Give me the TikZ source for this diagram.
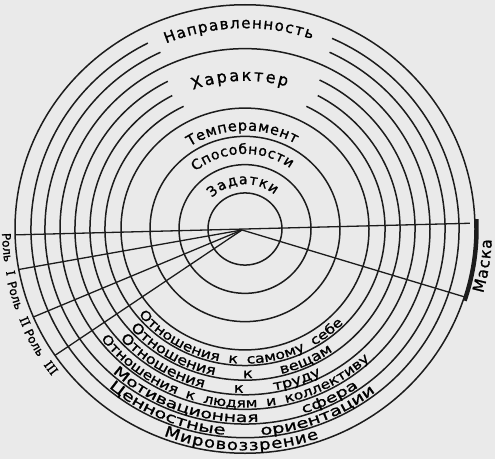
\documentclass[tikz,border=0pt]{standalone}
\usepackage{fontspec}
\usetikzlibrary{decorations.text}
\newfontfamily\labA[FakeBold=1.2]{DejaVu Sans}
\newfontfamily\labB[FakeStretch=1.2,FakeBold=1.2]{DejaVu Sans}
\newfontfamily\labC[FakeStretch=1.4,FakeBold=1.2]{DejaVu Sans}
\newfontfamily\numf[FakeBold=1.2]{DejaVu Serif}
\definecolor{paper}{RGB}{234,234,234}
\definecolor{ink}{RGB}{28,28,28}
\newcommand{\fA}[1]{\labA\fontsize{#1}{#1}\selectfont}
\newcommand{\fB}[1]{\labB\fontsize{#1}{#1}\selectfont}
\newcommand{\fC}[1]{\labC\fontsize{#1}{#1}\selectfont}
\newcommand{\fN}[1]{\numf\fontsize{#1}{#1}\selectfont}
\tikzset{
  ring/.style={draw=ink, line width=1.5pt},
  spoke/.style={draw=ink, line width=1.3pt},
  maskarc/.style={draw=ink, line width=3.5pt},
  toplbl/.style={decorate, decoration={text along path, text={#1}, text align={fit to path}}},
  botlbl/.style={decorate, decoration={text along path, text={#1}, text align={fit to path stretching spaces}}},
}
\begin{document}
\begin{tikzpicture}[x=1pt,y=1pt,color=ink]
\useasboundingbox (0,0) rectangle (495,459);
\fill[paper] (0,0) rectangle (495,459);
\begin{scope}[shift={(245,230)}, yscale=0.975]
  \coordinate (O) at (0,0);
  \coordinate (hub) at (-3,-1);
  % full circles
  \foreach \rad in {37,66,95,124,185,230} \draw[ring] (O) circle[radius=\rad pt];
  % gapped arcs (Character)
  \draw[ring] (116:140pt) arc[start angle=116, end angle=424, radius=140pt];
  \draw[ring] (118:155pt) arc[start angle=118, end angle=422, radius=155pt];
  \draw[ring] (117:170pt) arc[start angle=117, end angle=424, radius=170pt];
  % gapped arcs (Orientation)
  \draw[ring] (115:200pt) arc[start angle=115, end angle=425, radius=200pt];
  \draw[ring] (117:214pt) arc[start angle=117, end angle=426, radius=214pt];
  % spokes
  \coordinate (hL) at (181.5:230pt);
  \coordinate (hR) at (1.5:225pt);
  \coordinate (r1end) at (190.4:230pt);
  \coordinate (r2end) at (203.1:230pt);
  \coordinate (r3end) at (214.3:230pt);
  \coordinate (mEnd) at (342.4:230pt);
  \draw[spoke] (hL) -- (hR);
  \draw[spoke] (hub) -- (r1end);
  \draw[spoke] (hub) -- (r2end);
  \draw[spoke] (hub) -- (r3end);
  \draw[spoke] (hub) -- (mEnd);
  % mask arc
  \draw[maskarc] (-18.5:232pt) arc[start angle=-18.5, end angle=2.5, radius=232pt];
  % top labels
  \path[toplbl={|\fA{14}|Задатки}] (136:46pt) arc[start angle=136, end angle=50, radius=46pt];
  \path[toplbl={|\fA{14}|Способности}] (130:77pt) arc[start angle=130, end angle=54, radius=77pt];
  \path[toplbl={|\fA{14.5}|Темперамент}] (123:101pt) arc[start angle=123, end angle=60, radius=101pt];
  \path[toplbl={|\fA{16}|Характер}] (110:152pt) arc[start angle=110, end angle=74, radius=152pt];
  \path[toplbl={|\fA{15}|Направленность}] (112.5:206pt) arc[start angle=112.5, end angle=71, radius=206pt];
  % bottom labels
  \path[botlbl={|\fB{13}|Отношения к самому себе}] (219.5:138pt) arc[start angle=219.5, end angle=315.5, radius=138pt];
  \path[botlbl={|\fB{13.5}|Отношения к вещам}] (221.5:153pt) arc[start angle=221.5, end angle=305, radius=153pt];
  \path[botlbl={|\fB{13.5}|Отношения к труду}] (222:168pt) arc[start angle=222, end angle=297, radius=168pt];
  \path[botlbl={|\fB{13}|Отношения к людям и коллективу}] (218:183pt) arc[start angle=218, end angle=313, radius=183pt];
  \path[botlbl={|\fC{13.5}|Мотивационная сфера}] (228:198pt) arc[start angle=228, end angle=305, radius=198pt];
  \path[botlbl={|\fC{14}|Ценностные ориентации}] (230:212pt) arc[start angle=230, end angle=308, radius=212pt];
  \path[toplbl={|\fB{15}|Мировоззрение}] (249:227pt) arc[start angle=249, end angle=289, radius=227pt];
  % roles and mask
  \path[botlbl={|\fA{12}|Роль |\fN{12}|I}] (181:243pt) arc[start angle=181, end angle=191.5, radius=243pt];
  \path[botlbl={|\fA{12}|Роль |\fN{12}|II}] (193:244pt) arc[start angle=193, end angle=204.5, radius=244pt];
  \path[botlbl={|\fA{12}|Роль |\fN{12}|III}] (205.5:245pt) arc[start angle=205.5, end angle=218, radius=245pt];
  \path[toplbl={|\fA{15.5}|Маска}] (-15.5:247pt) arc[start angle=-15.5, end angle=-2.5, radius=247pt];
\end{scope}
\end{tikzpicture}
\end{document}
